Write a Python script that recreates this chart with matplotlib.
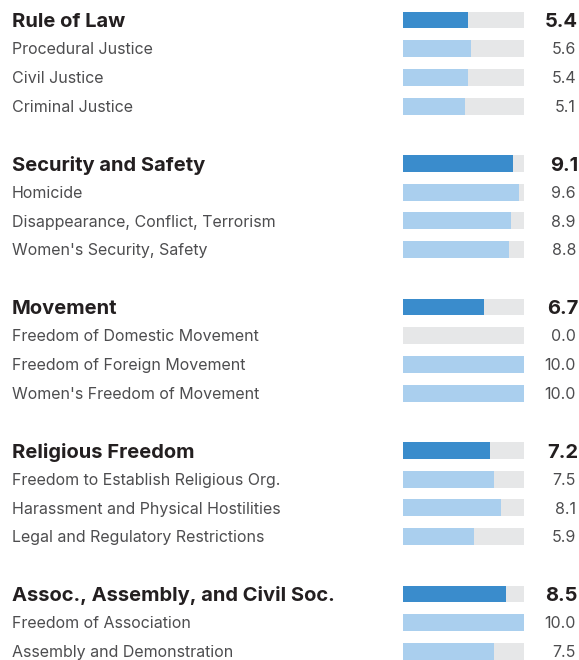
import matplotlib
matplotlib.use("Agg")
import matplotlib.pyplot as plt
from matplotlib.transforms import blended_transform_factory, offset_copy

groups = ["Rule of Law", "Security and Safety", "Movement", "Religious Freedom",
          "Assoc., Assembly, and Civil Soc."]
group_values = [5.4, 9.1, 6.7, 7.2, 8.5]
sub_labels = [
    ["Procedural Justice", "Civil Justice", "Criminal Justice"],
    ["Homicide", "Disappearance, Conflict, Terrorism", "Women's Security, Safety"],
    ["Freedom of Domestic Movement", "Freedom of Foreign Movement", "Women's Freedom of Movement"],
    ["Freedom to Establish Religious Org.", "Harassment and Physical Hostilities",
     "Legal and Regulatory Restrictions"],
    ["Freedom of Association", "Assembly and Demonstration"],
]
sub_values = [
    [5.6, 5.4, 5.1],
    [9.6, 8.9, 8.8],
    [0.0, 10.0, 10.0],
    [7.5, 8.1, 5.9],
    [10.0, 7.5],
]
max_value = 10.0

DARK = "#3a8ccc"
LIGHT = "#aacfee"
GRAY = "#e6e7e8"
HEAD_TXT = "#231f20"
SUB_TXT = "#4d4d4f"

W, H = 579, 660
fig = plt.figure(figsize=(W / 100, H / 100), dpi=100)
fig.patch.set_facecolor("white")
pitch = 28.7
top = 20.0
ax = fig.add_axes([403 / W, 0, 121 / W, 1])
ax.set_xlim(0, max_value)
ax.set_ylim((H - top) / pitch, -top / pitch)
ax.axis("off")

font = ["Inter", "DejaVu Sans"]
tr = blended_transform_factory(fig.transFigure, ax.transData)
HS, SS = 14.5, 11.5
tr_head = offset_copy(tr, fig=fig, y=-0.36 * HS, units="points")
tr_sub = offset_copy(tr, fig=fig, y=-0.36 * SS, units="points")

row = 0
bh = 0.59
for g, gv, labs, vals in zip(groups, group_values, sub_labels, sub_values):
    ax.barh(row, max_value, height=bh, color=GRAY, linewidth=0)
    ax.barh(row, gv, height=bh, color=DARK, linewidth=0)
    ax.text(12 / W, row, g, transform=tr_head, ha="left", va="baseline", fontsize=HS,
            fontweight="bold", color=HEAD_TXT, family=font)
    ax.text(578 / W, row, f"{gv:.1f}", transform=tr_head, ha="right", va="baseline",
            fontsize=HS, fontweight="bold", color=HEAD_TXT, family=font)
    for j, (l, v) in enumerate(zip(labs, vals)):
        r = row + 1 + j
        ax.barh(r, max_value, height=bh, color=GRAY, linewidth=0)
        ax.barh(r, v, height=bh, color=LIGHT, linewidth=0)
        ax.text(12 / W, r, l, transform=tr_sub, ha="left", va="baseline", fontsize=SS,
                color=SUB_TXT, family=font)
        ax.text(576 / W, r, f"{v:.1f}", transform=tr_sub, ha="right", va="baseline",
                fontsize=SS, color=SUB_TXT, family=font)
    row += 5

fig.savefig("out.png", dpi=100, facecolor="white")
